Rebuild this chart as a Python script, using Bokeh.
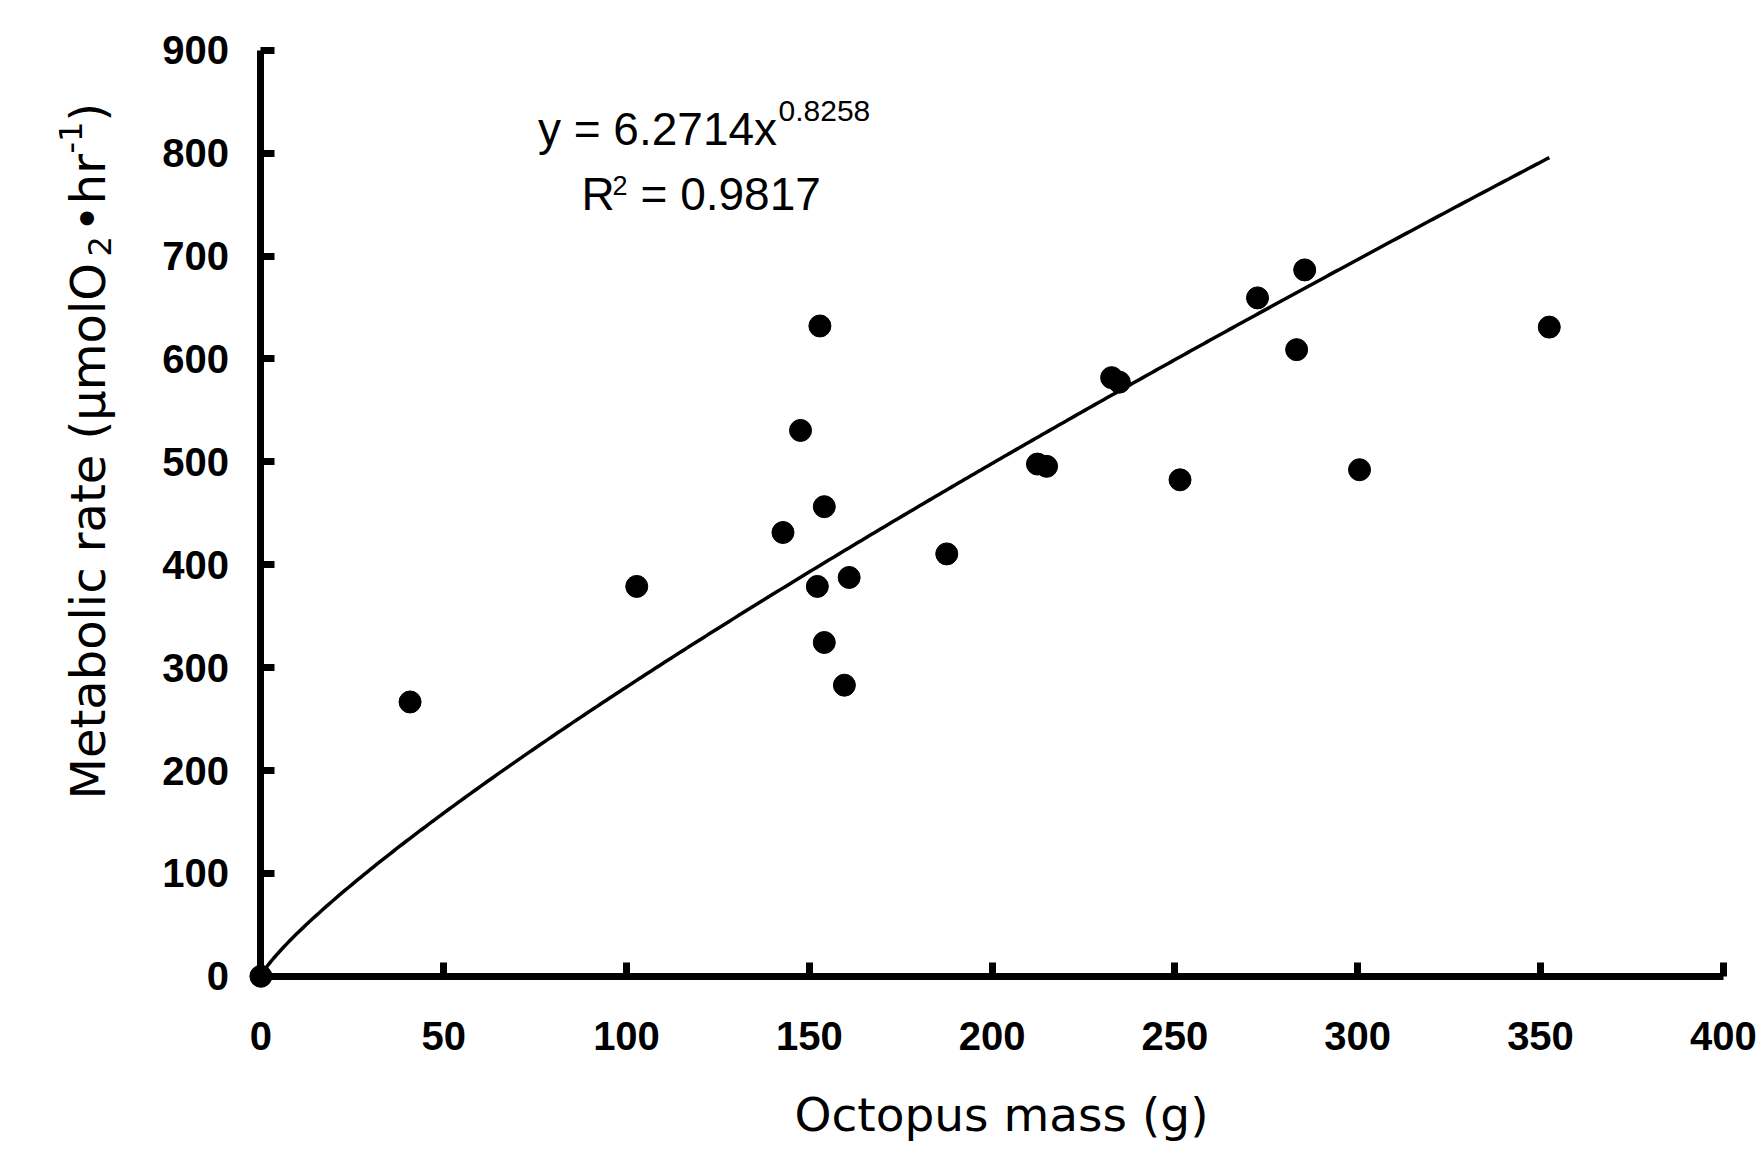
import numpy as np
from bokeh.plotting import figure
from bokeh.models import Range1d, FixedTicker, Label, ColumnDataSource
from bokeh.embed import file_html
from bokeh.resources import INLINE

# ---- data ----
mass = [0, 40.8, 102.8, 142.8, 147.6, 152.9, 152.2, 154.1, 154.1, 160.9, 159.6,
        187.6, 212.4, 214.9, 232.7, 234.8, 251.4, 272.6, 285.5, 283.3, 300.5, 352.4]
rate = [0, 266.6, 378.9, 431.3, 530.5, 632.0, 378.9, 456.4, 324.4, 387.6, 282.9,
        410.5, 497.8, 495.6, 581.8, 577.4, 482.5, 659.3, 686.5, 609.0, 492.3, 630.9]
fit_a = 6.2714
fit_b = 0.8258
r_squared = 0.9817
x_ticks = [0, 50, 100, 150, 200, 250, 300, 350, 400]
y_ticks = [0, 100, 200, 300, 400, 500, 600, 700, 800, 900]
x_title = "Octopus mass (g)"
y_title_parts = ["Metabolic rate (µmolO", "2", "•hr", "-1", ")"]

# ---- layout: the frame covers the whole canvas; axes sit at x=0 / y=0 ----
W, H = 1760, 1149
PX0, PX400 = 260.4, 1722.8     # pixel x of mass 0 and 400
PY0, PY900 = 975.8, 49.7       # pixel y of rate 0 and 900
sx = (PX400 - PX0) / 400.0
sy = (PY0 - PY900) / 900.0
X0 = -PX0 / sx
X1 = 400 + (W - PX400) / sx
Y1 = 900 + PY900 / sy
Y0 = -(H - PY0) / sy


def at(px, py):
    """canvas pixel -> data coords"""
    return X0 + px / sx, Y1 - py / sy


p = figure(width=W, height=H, output_backend="svg", toolbar_location=None,
           x_range=Range1d(X0, X1), y_range=Range1d(Y0, Y1),
           min_border=0, min_border_left=0, min_border_right=0,
           min_border_top=0, min_border_bottom=0)
p.outline_line_color = None
p.xgrid.visible = False
p.ygrid.visible = False
p.background_fill_color = "white"
p.border_fill_color = "white"

for ax, ticks, bounds in ((p.xaxis[0], x_ticks, (0, 400)), (p.yaxis[0], y_ticks, (0, 900))):
    ax.ticker = FixedTicker(ticks=ticks)
    ax.bounds = bounds
    ax.fixed_location = 0
    ax.axis_line_width = 7
    ax.axis_line_color = "black"
    ax.major_tick_line_width = 7
    ax.major_tick_line_color = "black"
    ax.major_tick_in = 14
    ax.major_tick_out = 0
    ax.minor_tick_line_color = None
    ax.major_label_text_font = "Liberation Sans"
    ax.major_label_text_font_style = "bold"
    ax.major_label_text_font_size = "40px"
    ax.major_label_text_color = "black"
p.xaxis[0].major_label_standoff = 46
p.yaxis[0].major_label_standoff = 32

# fitted power curve from the chart's equation
xs = np.linspace(0, max(mass), 400)
curve = ColumnDataSource(dict(x=xs, y=fit_a * xs ** fit_b))
p.line("x", "y", source=curve, line_color="black", line_width=3.5)

pts = ColumnDataSource(dict(x=mass, y=rate))
p.scatter("x", "y", source=pts, size=22, fill_color="black", line_color="black",
          level="overlay")


def lab(text, px, py, size, align="left", font="Liberation Sans", angle=0.0):
    x, y = at(px, py)
    p.add_layout(Label(x=x, y=y, text=text, text_font=font,
                       text_font_size=f"{size}px", text_align=align,
                       text_baseline="alphabetic", text_color="black", angle=angle))


# equation text
lab(f"y = {fit_a}x", 657, 128, 46, align="center")
lab(f"{fit_b}", 778, 110, 30)
lab("R", 581, 193, 46)
lab("2", 612, 185, 27)
lab(f"= {r_squared}", 640, 193, 46)

# axis titles
lab(x_title, 1001, 1114, 47, align="center", font="DejaVu Sans")
A = np.pi / 2
lab(y_title_parts[0], 87, 799, 48, font="DejaVu Sans", angle=A)
lab(y_title_parts[1], 99, 256, 32, font="DejaVu Sans", angle=A)
lab(y_title_parts[2], 87, 232, 48, font="DejaVu Sans", angle=A)
lab(y_title_parts[3], 70, 153, 32, font="DejaVu Sans", angle=A)
lab(y_title_parts[4], 87, 121, 48, font="DejaVu Sans", angle=A)

open("out.html", "w").write(file_html(p, INLINE))
